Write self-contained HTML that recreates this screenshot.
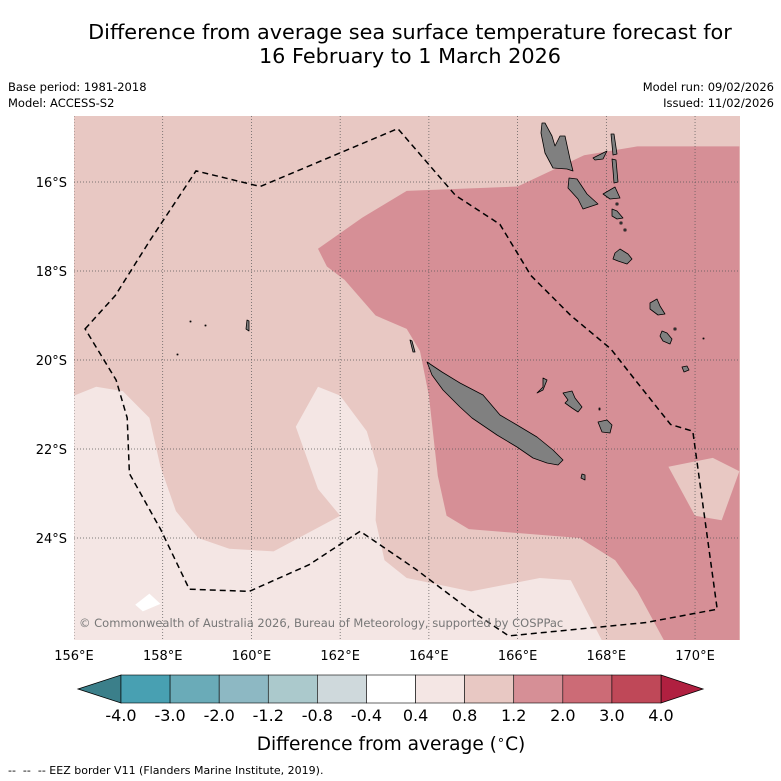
<!DOCTYPE html>
<html><head><meta charset="utf-8"><style>
body{margin:0;background:#fff;font-family:"DejaVu Sans","Liberation Sans",sans-serif}
svg{display:block}
</style></head><body>
<svg width="781" height="781" viewBox="0 0 781 781" font-family="DejaVu Sans, Liberation Sans, sans-serif">
<text x="410" y="39" font-size="20.8" text-anchor="middle">Difference from average sea surface temperature forecast for</text>
<text x="410" y="63" font-size="20.8" text-anchor="middle">16 February to 1 March 2026</text>
<text x="8" y="91" font-size="11.5">Base period: 1981-2018</text>
<text x="8" y="107" font-size="11.5">Model: ACCESS-S2</text>
<text x="774" y="91" font-size="11.5" text-anchor="end">Model run: 09/02/2026</text>
<text x="774" y="107" font-size="11.5" text-anchor="end">Issued: 11/02/2026</text>
<g id="map"></g>
<g id="axes"></g>
<g id="cbar"></g>
<text x="391" y="750" font-size="18.6" text-anchor="middle">Difference from average (<tspan font-size="13" dy="-6">∘</tspan><tspan dy="6">C)</tspan></text>
<text x="8" y="774" font-size="11" xml:space="preserve">--  --  -- EEZ border V11 (Flanders Marine Institute, 2019).</text>
</svg>
<script>
const NS="http://www.w3.org/2000/svg";
const lonTicks=[156,158,160,162,164,166,168,170];
const latTicks=[16,18,20,22,24];
const cbarLevels=["-4.0","-3.0","-2.0","-1.2","-0.8","-0.4","0.4","0.8","1.2","2.0","3.0","4.0"];
const cbarColors=["#48a0b2","#6aabb8","#8db8c3","#abc9cc","#cfd9dc","#ffffff","#f4e6e4","#e8c8c3","#d68f96","#cc6b76","#bf4858"];
const warmRegion=[[161.5,17.5],[162.5,16.8],[163.5,16.2],[166,16.1],[167.5,15.4],[168.7,15.2],[171,15.2],[171,26.3],[169.3,26.3],[168.7,25.2],[168.2,24.5],[167.4,24.0],[164.9,23.8],[164.4,23.5],[164.2,22.6],[164,20.8],[163.8,19.8],[163.5,19.3],[162.8,19.0],[162.1,18.2],[161.7,17.9]];
const warmPatch=[[169.4,22.4],[170.4,22.2],[171,22.5],[170.6,23.6],[170,23.5]];
const coolRegion=[[156,20.8],[156.5,20.6],[157.1,20.7],[157.7,21.3],[157.95,22.4],[158.3,23.4],[158.8,24],[159.5,24.24],[160.5,24.3],[162,23.5],[161.5,22.9],[161,21.5],[161.5,20.6],[162,20.8],[162.6,21.6],[162.85,22.45],[162.8,23.6],[163,24.5],[163.5,24.9],[164.95,25.2],[166.5,24.9],[167.2,24.95],[167.9,26.3],[156,26.3]];
const whitePatch=[[157.38,25.5],[157.7,25.25],[157.95,25.48],[157.55,25.65]];
const eez=[[156.25,19.3],[156.93,18.55],[157.72,17.3],[158.75,15.75],[160.2,16.1],[163.3,14.8],[164.6,16.3],[165.6,16.95],[166.3,18.1],[167.2,19.0],[168.1,19.75],[168.65,20.45],[169.45,21.45],[169.95,21.6],[170.5,25.6],[168.9,25.9],[165.8,26.2],[164.9,25.6],[163.7,24.7],[162.45,23.85],[161.3,24.6],[159.95,25.2],[158.6,25.15],[157.95,23.8],[157.25,22.55],[157.2,21.3],[156.95,20.45]];
const islandsPx=[
[[427,362],[442,372],[460,383],[483,395],[500,415],[517,425],[537,437],[553,450],[563,460],[558,465],[547,463],[533,458],[517,447],[497,435],[472,418],[460,407],[443,390],[432,375]],
[[543,378],[547,380],[543,390],[537,393],[543,387]],
[[563,393],[572,391],[575,398],[582,407],[578,412],[572,408],[565,403],[568,400]],
[[598,422],[607,420],[612,425],[610,433],[602,432]],
[[582,474],[585,475],[585,480],[581,478]],
[[410,340],[412,341],[415,352],[413,352]],
[[247,320],[249,321],[249,331],[246,329]],
[[542,123],[545,123],[552,136],[555,146],[560,136],[565,136],[570,159],[573,171],[567,169],[553,168],[545,153],[541,133]],
[[611,134],[614,134],[617,154],[613,155]],
[[612,159],[616,160],[618,182],[614,183],[613,170]],
[[593,158],[607,151],[603,159],[595,160]],
[[569,178],[577,179],[587,194],[598,204],[583,209],[578,199],[568,188]],
[[603,194],[615,187],[620,198],[610,199]],
[[612,209],[617,211],[623,218],[617,219],[612,216]],
[[615,253],[620,249],[628,254],[632,259],[627,264],[618,261],[613,259]],
[[650,303],[657,299],[660,306],[665,314],[658,315],[650,309]],
[[662,331],[667,333],[672,339],[670,344],[663,341],[660,336]],
[[682,367],[687,366],[689,370],[684,372]],
[[616,203],[618,203],[618,205],[616,205]],[[620,222],[622,222],[622,224],[620,224]],[[624,229],[626,229],[626,231],[624,231]],
[[674,328],[676,328],[676,330],[674,330]],[[703,338],[704,338],[704,339],[703,339]],[[190,321],[191,321],[191,322],[190,322]],[[205,325],[206,325],[206,326],[205,326]],[[177,354],[178,354],[178,355],[177,355]],[[599,408],[600,408],[600,410],[599,410]]
];
const X=lon=>74+(lon-156)*44.36;
const Y=lat=>182+(lat-16)*44.5;
const L=74,R=740,T=116,B=640;
function pts(a){return a.map(p=>X(p[0]).toFixed(1)+","+Y(p[1]).toFixed(1)).join(" ");}
const map=document.getElementById("map");
const cp=document.createElementNS(NS,"clipPath");cp.setAttribute("id","clip");
const cr=document.createElementNS(NS,"rect");cr.setAttribute("x",L);cr.setAttribute("y",T);cr.setAttribute("width",R-L);cr.setAttribute("height",B-T);cp.appendChild(cr);map.appendChild(cp);
const g=document.createElementNS(NS,"g");g.setAttribute("clip-path","url(#clip)");map.appendChild(g);
function poly(a,fill,name){const p=document.createElementNS(NS,"polygon");p.setAttribute("points",pts(a));p.setAttribute("fill",fill);


g.appendChild(p);return p;}
const bg=document.createElementNS(NS,"rect");bg.setAttribute("x",L);bg.setAttribute("y",T);bg.setAttribute("width",R-L);bg.setAttribute("height",B-T);bg.setAttribute("fill","#e8c8c3");


g.appendChild(bg);
poly(warmRegion,"#d68f96","anomaly-1.2-2.0-region");
poly(warmPatch,"#e8c8c3","anomaly-0.8-1.2-patch");
poly(coolRegion,"#f4e6e4","anomaly-0.4-0.8-region");
poly(whitePatch,"#ffffff","neutral-patch");
lonTicks.forEach(v=>{const l=document.createElementNS(NS,"line");l.setAttribute("x1",X(v));l.setAttribute("x2",X(v));l.setAttribute("y1",T);l.setAttribute("y2",B);l.setAttribute("stroke","#555");l.setAttribute("stroke-width","0.7");l.setAttribute("stroke-dasharray","1,2");


g.appendChild(l);});
latTicks.forEach(v=>{const l=document.createElementNS(NS,"line");l.setAttribute("y1",Y(v));l.setAttribute("y2",Y(v));l.setAttribute("x1",L);l.setAttribute("x2",R);l.setAttribute("stroke","#555");l.setAttribute("stroke-width","0.7");l.setAttribute("stroke-dasharray","1,2");


g.appendChild(l);});
islandsPx.forEach(a=>{const p=document.createElementNS(NS,"polygon");p.setAttribute("points",a.map(q=>q.join(",")).join(" "));p.setAttribute("fill","#808080");p.setAttribute("stroke","#000");p.setAttribute("stroke-width","0.8");p.setAttribute("stroke-linejoin","round");


g.appendChild(p);});
const e=poly(eez,"none","eez-border");e.setAttribute("stroke","#000");e.setAttribute("stroke-width","1.5");e.setAttribute("stroke-dasharray","6,4");
const c=document.createElementNS(NS,"text");c.setAttribute("x",79);c.setAttribute("y",627);c.setAttribute("font-size","11.5");c.setAttribute("fill","#777");c.textContent="© Commonwealth of Australia 2026, Bureau of Meteorology, supported by COSPPac";


map.appendChild(c);
const ax=document.getElementById("axes");
lonTicks.forEach(v=>{const t=document.createElementNS(NS,"text");t.setAttribute("x",X(v));t.setAttribute("y",660);t.setAttribute("font-size","13");t.setAttribute("text-anchor","middle");t.textContent=v+"°E";


ax.appendChild(t);});
latTicks.forEach(v=>{const t=document.createElementNS(NS,"text");t.setAttribute("x",67);t.setAttribute("y",Y(v)+5);t.setAttribute("font-size","13");t.setAttribute("text-anchor","end");t.textContent=v+"°S";


ax.appendChild(t);});
const cb=document.getElementById("cbar");
const cx0=121,cx1=661,cy0=675,cy1=703,bw=(cx1-cx0)/cbarColors.length;
function cpoly(p,fill,name){const q=document.createElementNS(NS,"polygon");q.setAttribute("points",p);q.setAttribute("fill",fill);q.setAttribute("stroke","#000");q.setAttribute("stroke-width","0.8");


cb.appendChild(q);}
cpoly(`78,689 ${cx0},${cy0} ${cx0},${cy1}`,"#3b7f8a","colorbar-extend-low");
cpoly(`703,689 ${cx1},${cy0} ${cx1},${cy1}`,"#b02040","colorbar-extend-high");
cbarColors.forEach((col,i)=>{const r=document.createElementNS(NS,"rect");r.setAttribute("x",cx0+i*bw);r.setAttribute("y",cy0);r.setAttribute("width",bw);r.setAttribute("height",cy1-cy0);r.setAttribute("fill",col);r.setAttribute("stroke","#000");r.setAttribute("stroke-width","0.6");


cb.appendChild(r);});
cbarLevels.forEach((lv,i)=>{const t=document.createElementNS(NS,"text");t.setAttribute("x",cx0+i*bw);t.setAttribute("y",721);t.setAttribute("font-size","16");t.setAttribute("text-anchor","middle");t.textContent=lv;


cb.appendChild(t);});
</script>
</body></html>
